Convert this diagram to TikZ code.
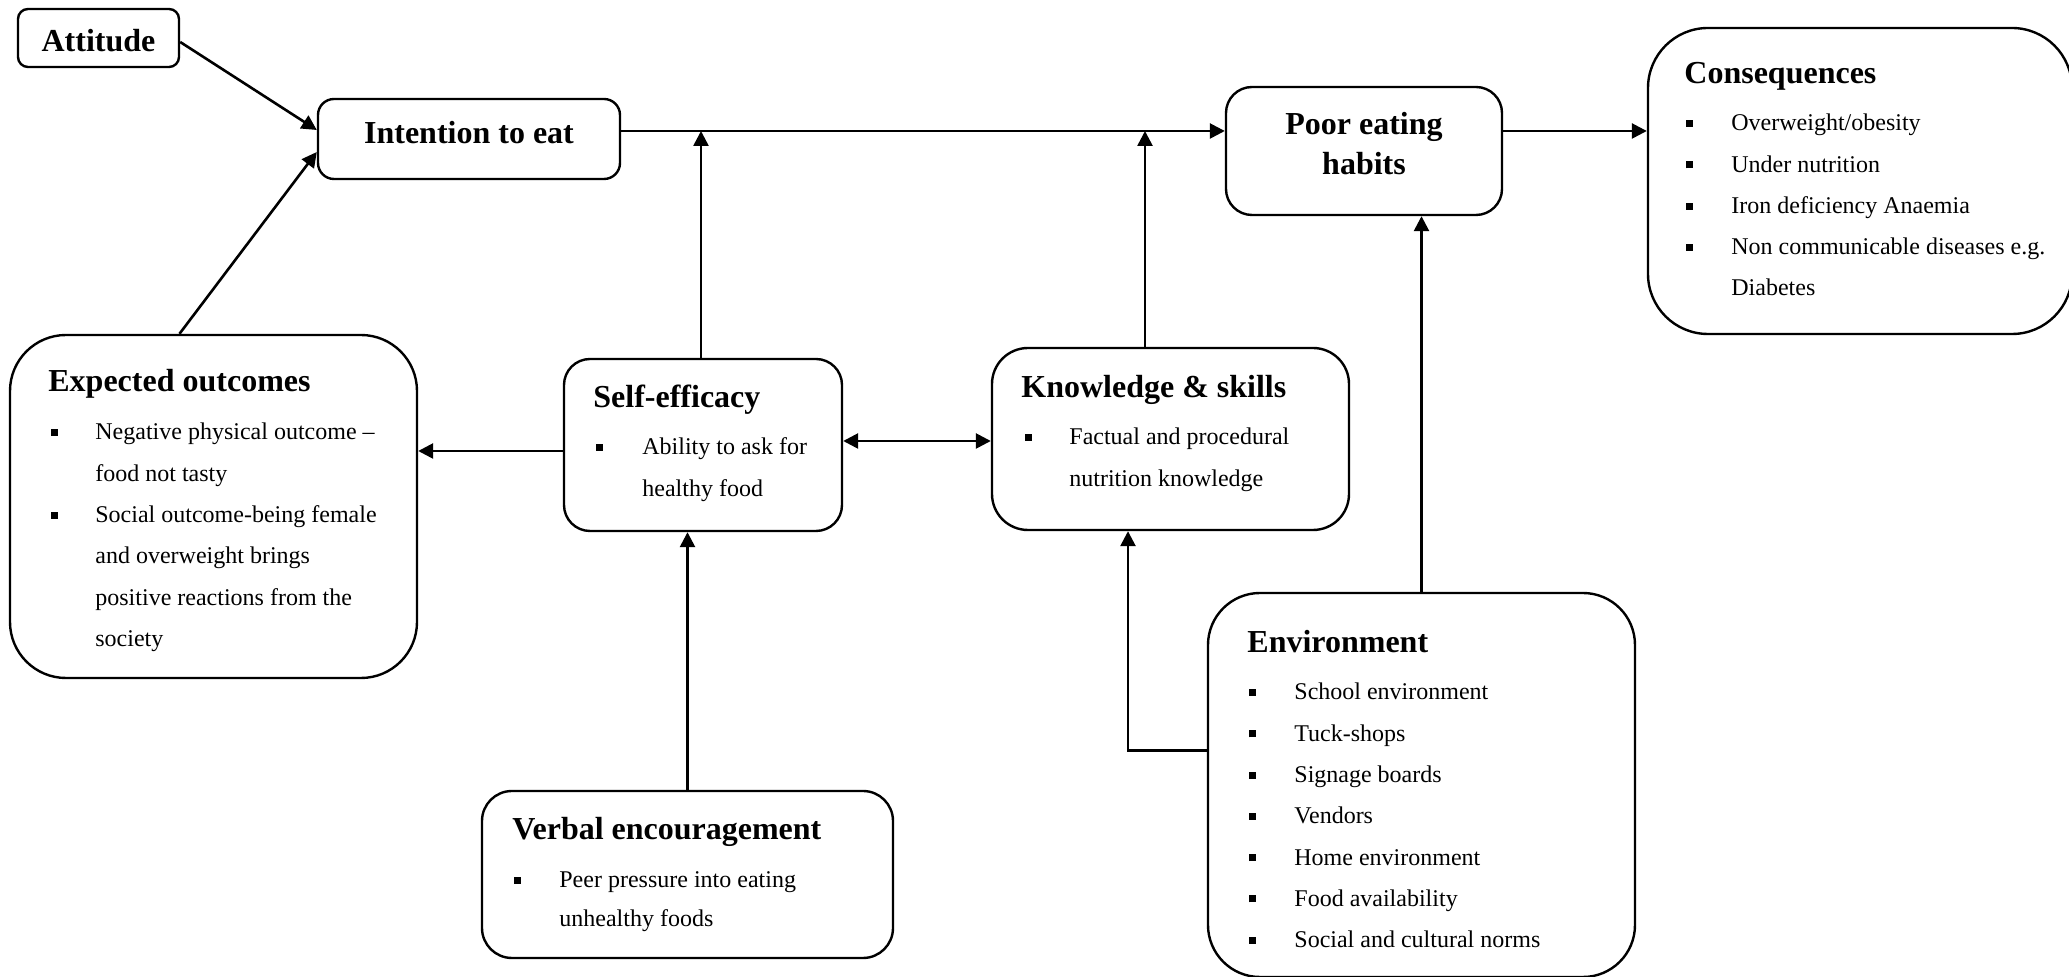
\documentclass[tikz,border=0pt]{standalone}
\usepackage{fontspec}
\setmainfont{Liberation Serif}
\usetikzlibrary{arrows.meta,fit,calc}
\tikzset{
  box/.style={draw, line width=1.2pt, inner sep=0pt},
  ttl/.style={font=\fontsize{16}{19}\selectfont\bfseries, inner sep=0pt, anchor=base west},
  ctl/.style={font=\fontsize{16}{19}\selectfont\bfseries, inner sep=0pt, anchor=base},
  txt/.style={font=\fontsize{12}{14}\selectfont, inner sep=0pt, anchor=base west},
  arr/.style={line width=1.3pt, -{Triangle[length=7.5pt,width=7.5pt]}},
  darr/.style={line width=1.3pt, {Triangle[length=7.5pt,width=7.5pt]}-{Triangle[length=7.5pt,width=7.5pt]}},
}
\newcommand\bul{\raisebox{2pt}{\rule{3.5pt}{3.5pt}}}
\begin{document}
\begin{tikzpicture}[x=0.5pt,y=-0.5pt]
\useasboundingbox (0,0) rectangle (2069,977);

% boxes
\node[box, rounded corners=5pt, fit={(18,9) (179,67)}] (att) {};
\node[box, rounded corners=8pt, fit={(318,99) (620,179)}] (int) {};
\node[box, rounded corners=13pt, fit={(1226,87) (1502,215)}] (poor) {};
\node[box, rounded corners=30pt, fit={(1648,28) (2072,334)}] (cons) {};
\node[box, rounded corners=28pt, fit={(10,335) (417,678)}] (exp) {};
\node[box, rounded corners=13pt, fit={(564,359) (842,531)}] (self) {};
\node[box, rounded corners=18pt, fit={(992,348) (1349,530)}] (know) {};
\node[box, rounded corners=26pt, fit={(1208,593) (1635,977)}] (env) {};
\node[box, rounded corners=15pt, fit={(482,791) (893,958)}] (verb) {};

% texts
\node[ctl] (attT) at (98.5,52) {Attitude};
\node[ctl] (intT) at (469,144) {Intention to eat};
\node[ctl] (poorT1) at (1364,135) {Poor eating};
\node[ctl] (poorT2) at (1364,175) {habits};

\node[ttl] (consT) at (1684,84) {Consequences};
\foreach \t [count=\i] in {Overweight/obesity,Under nutrition,Iron deficiency Anaemia,Non communicable diseases e.g.}{
  \node[txt] (consB\i) at (1686,{131+41.3*(\i-1)}) {\bul};
  \node[txt] (consL\i) at (1731,{131+41.3*(\i-1)}) {\t};
}
\node[txt] (consL5) at (1731,296) {Diabetes};

\node[ttl] (expT) at (48,392) {Expected outcomes};
\node[txt] (expB1) at (51,440) {\bul};
\node[txt] (expB2) at (51,523) {\bul};
\foreach \t [count=\i] in {Negative physical outcome --,food not tasty,Social outcome-being female,and overweight brings,positive reactions from the,society}{
  \node[txt] (expL\i) at (95,{440+41.3*(\i-1)}) {\t};
}

\node[ttl] (selfT) at (593,408) {Self-efficacy};
\node[txt] (selfB1) at (596,455) {\bul};
\node[txt] (selfL1) at (642,455) {Ability to ask for};
\node[txt] (selfL2) at (642,497) {healthy food};

\node[ttl] (knowT) at (1021,398) {Knowledge \& skills};
\node[txt] (knowB1) at (1025,445) {\bul};
\node[txt] (knowL1) at (1069,445) {Factual and procedural};
\node[txt] (knowL2) at (1069,487) {nutrition knowledge};

\node[ttl] (envT) at (1247,653) {Environment};
\foreach \t [count=\i] in {School environment,Tuck-shops,Signage boards,Vendors,Home environment,Food availability,Social and cultural norms}{
  \node[txt] (envB\i) at (1249,{700+41.3*(\i-1)}) {\bul};
  \node[txt] (envL\i) at (1294,{700+41.3*(\i-1)}) {\t};
}

\node[ttl] (verbT) at (512,840) {Verbal encouragement};
\node[txt] (verbB1) at (514,888) {\bul};
\node[txt] (verbL1) at (559,888) {Peer pressure into eating};
\node[txt] (verbL2) at (559,927) {unhealthy foods};

% connectors
\coordinate (ml) at ([yshift=4pt]int.east);
\coordinate (se) at ([yshift=-3pt]self.west);
\coordinate (sk) at ([yshift=2pt]self.east);
\draw[arr] ([yshift=-2pt]att.east) -- ([yshift=4.5pt]int.west);
\draw[arr] ([xshift=-17pt]exp.north) -- ([yshift=-6.5pt]int.west);
\draw[arr] (ml) -- (ml -| poor.west);
\draw[arr] ([xshift=-1pt]self.north) -- ([xshift=-1pt]self.north |- ml);
\draw[arr] ([xshift=-12.75pt]know.north) -- ([xshift=-12.75pt]know.north |- ml);
\draw[arr] (poor.east |- ml) -- (cons.west |- ml);
\draw[arr] (se) -- (exp.east |- se);
\draw[darr] (sk) -- (know.west |- sk);
\draw[arr] (verb.north) -- (verb.north |- self.south);
\draw[arr] ([yshift=17.25pt]env.west) -| ([xshift=-21.25pt]know.south);
\draw[arr] (env.north) -- (env.north |- poor.south);
\end{tikzpicture}
\end{document}
